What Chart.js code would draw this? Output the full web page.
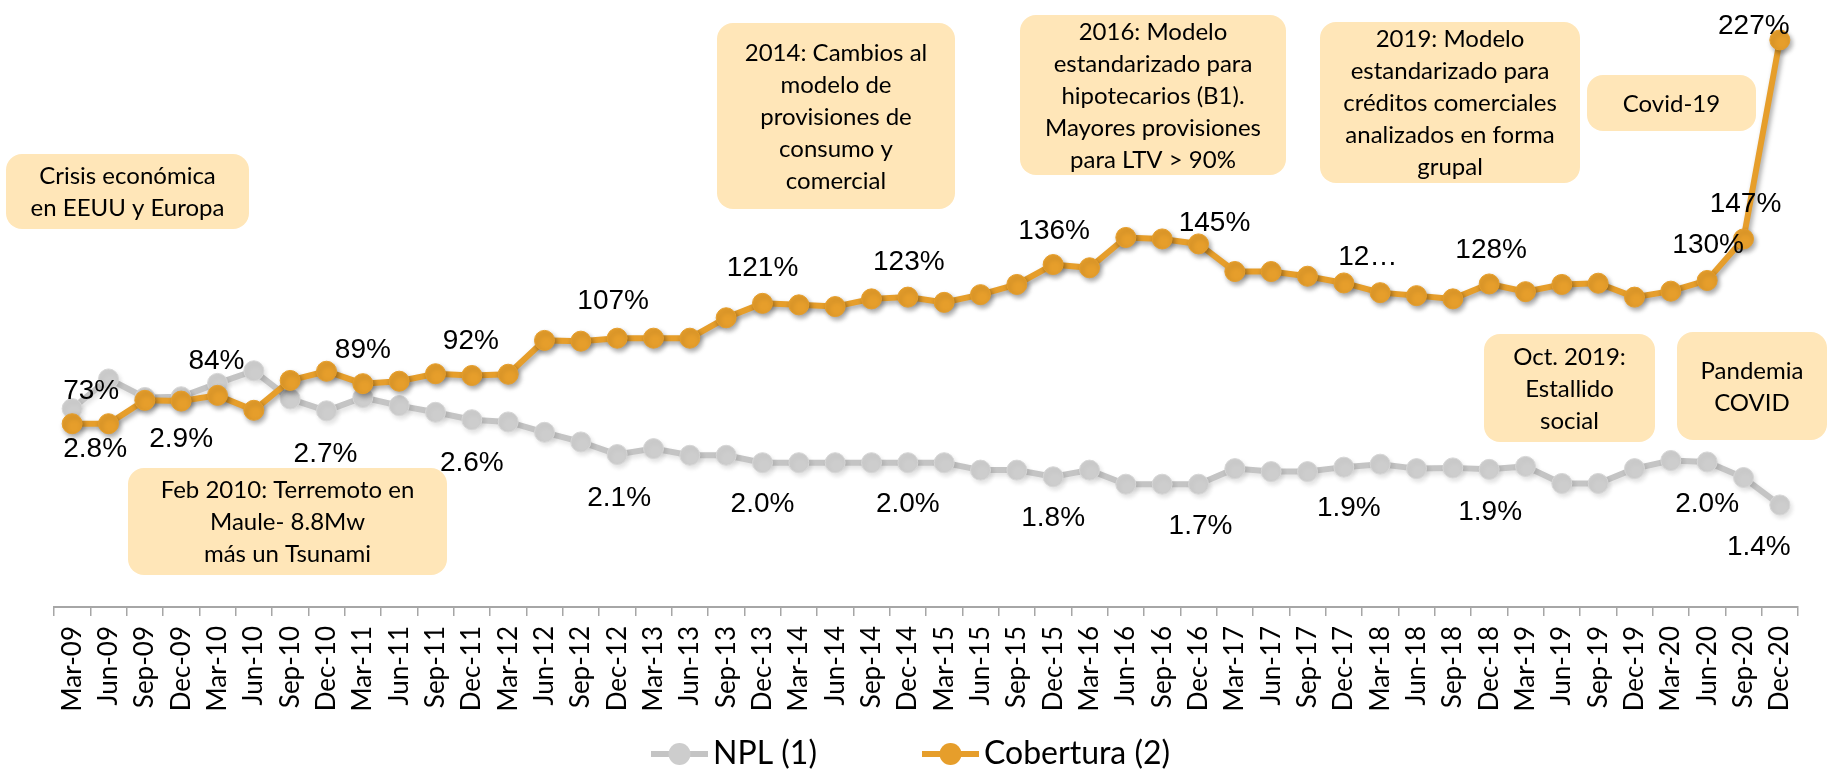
<!DOCTYPE html>
<html>
<head>
<meta charset="utf-8">
<script src="https://cdn.jsdelivr.net/npm/chart.js@4.4.1/dist/chart.umd.min.js"></script>
<style>
  html, body { margin: 0; padding: 0; background: #fff; }
  canvas { display: block; }
</style>
</head>
<body>
<canvas id="chart" width="1837" height="771"></canvas>
<script>
// quarters
const quarters = ['Mar-09','Jun-09','Sep-09','Dec-09','Mar-10','Jun-10','Sep-10','Dec-10',
  'Mar-11','Jun-11','Sep-11','Dec-11','Mar-12','Jun-12','Sep-12','Dec-12',
  'Mar-13','Jun-13','Sep-13','Dec-13','Mar-14','Jun-14','Sep-14','Dec-14',
  'Mar-15','Jun-15','Sep-15','Dec-15','Mar-16','Jun-16','Sep-16','Dec-16',
  'Mar-17','Jun-17','Sep-17','Dec-17','Mar-18','Jun-18','Sep-18','Dec-18',
  'Mar-19','Jun-19','Sep-19','Dec-19','Mar-20','Jun-20','Sep-20','Dec-20'];

// NPL (1), %
const npl = [2.72, 3.12, 2.87, 2.88, 3.06, 3.23, 2.85, 2.69, 2.87, 2.76,
  2.67, 2.57, 2.54, 2.40, 2.27, 2.10, 2.18, 2.09, 2.09, 1.99,
  1.99, 1.99, 1.99, 1.99, 1.99, 1.89, 1.89, 1.80, 1.89, 1.70,
  1.70, 1.70, 1.91, 1.87, 1.87, 1.93, 1.97, 1.91, 1.92, 1.90,
  1.94, 1.71, 1.71, 1.91, 2.02, 2.00, 1.79, 1.42];

// Cobertura (2), %
const cobertura = [72.7, 72.7, 82.1, 81.8, 84.1, 78.1, 90.1, 93.8, 88.8, 89.8,
  92.8, 92.1, 92.6, 106.2, 105.9, 107.1, 107.1, 107.1, 115.3, 121.1,
  120.5, 119.8, 122.9, 123.6, 121.5, 124.6, 128.7, 136.7, 135.4, 147.6,
  147.0, 145.0, 133.9, 133.9, 132.0, 129.3, 125.4, 124.2, 122.9, 128.9,
  125.8, 128.7, 129.2, 123.6, 126.0, 130.3, 147.0, 227.0];

// data labels shown on the chart
const nplLabelIdx  = [0, 3, 7, 11, 15, 19, 23, 27, 31, 35, 39, 45, 47];
const nplLabelText = ['2.8%','2.9%','2.7%','2.6%','2.1%','2.0%','2.0%','1.8%','1.7%','1.9%','1.9%','2.0%','1.4%'];
const covLabelIdx  = [0, 4, 8, 11, 15, 19, 23, 27, 31, 35, 39, 45, 46, 47];
const covLabelText = ['73%','84%','89%','92%','107%','121%','123%','136%','145%','12\u2026','128%','130%','147%','227%'];

// label offsets from their point (px)
const nplLabelOffset = [[23,38],[0,40],[-1,41],[0,41],[2,41],[0,39],[0,39],[0,39],[2,40],[5,39],[1,41],[0,40],[-21,40]];
const covLabelOffset = [[19,-35],[-1,-36],[0,-36],[-1,-36],[-4,-39],[0,-37],[1,-37],[1,-36],[16,-23],[24,-28],[2,-36],[1,-37],[2,-37],[-26,-16]];

const GRAY = '#C4C4C4';
const GRAY_PT = '#CDCDCD';
const ORANGE = '#E69E2B';
const BOX = '#FFE6B8';

const notes = [
  {x: 6,    y: 154, w: 243, h: 75,  lines: ['Crisis económica', 'en EEUU y Europa']},
  {x: 128,  y: 468, w: 319, h: 107, lines: ['Feb 2010: Terremoto en', 'Maule- 8.8Mw', 'más un Tsunami']},
  {x: 717,  y: 23,  w: 238, h: 186, lines: ['2014: Cambios al', 'modelo de', 'provisiones de', 'consumo y', 'comercial']},
  {x: 1020, y: 15,  w: 266, h: 160, lines: ['2016: Modelo', 'estandarizado para', 'hipotecarios (B1).', 'Mayores provisiones', 'para LTV > 90%']},
  {x: 1320, y: 22,  w: 260, h: 161, lines: ['2019: Modelo', 'estandarizado para', 'créditos comerciales', 'analizados en forma', 'grupal']},
  {x: 1587, y: 75,  w: 169, h: 56,  lines: ['Covid-19']},
  {x: 1484, y: 334, w: 171, h: 108, lines: ['Oct. 2019:', 'Estallido', 'social']},
  {x: 1677, y: 332, w: 150, h: 108, lines: ['Pandemia', 'COVID']}
];

function roundBox(ctx, x, y, w, h, r) {
  ctx.beginPath();
  ctx.moveTo(x + r, y);
  ctx.lineTo(x + w - r, y);
  ctx.arcTo(x + w, y, x + w, y + r, r);
  ctx.lineTo(x + w, y + h - r);
  ctx.arcTo(x + w, y + h, x + w - r, y + h, r);
  ctx.lineTo(x + r, y + h);
  ctx.arcTo(x, y + h, x, y + h - r, r);
  ctx.lineTo(x, y + r);
  ctx.arcTo(x, y, x + r, y, r);
  ctx.closePath();
}

const shadow = {
  id: 'shadow',
  beforeDatasetDraw(chart, args) {
    const ctx = chart.ctx;
    ctx.save();
    ctx.shadowColor = args.index === 1 ? 'rgba(0,0,0,0.35)' : 'rgba(0,0,0,0.12)';
    ctx.shadowBlur = 5;
    ctx.shadowOffsetX = 2;
    ctx.shadowOffsetY = 3;
  },
  afterDatasetDraw(chart) {
    chart.ctx.restore();
  }
};

const pointLabels = {
  id: 'pointLabels',
  afterDatasetsDraw(chart) {
    const ctx = chart.ctx;
    const sets = [
      {ds: 0, idx: nplLabelIdx, text: nplLabelText, off: nplLabelOffset},
      {ds: 1, idx: covLabelIdx, text: covLabelText, off: covLabelOffset}
    ];
    ctx.save();
    ctx.font = '28px "Liberation Sans", Arial, sans-serif';
    ctx.fillStyle = '#000';
    ctx.textAlign = 'center';
    ctx.textBaseline = 'alphabetic';
    sets.forEach(s => {
      const meta = chart.getDatasetMeta(s.ds);
      s.idx.forEach((i, k) => {
        const p = meta.data[i];
        ctx.fillText(s.text[k], p.x + s.off[k][0], p.y + s.off[k][1] + 10);
      });
    });
    ctx.restore();
  }
};

const notesAndLegend = {
  id: 'notesAndLegend',
  afterDraw(chart) {
    const ctx = chart.ctx;
    ctx.save();
    notes.forEach(n => {
      ctx.fillStyle = BOX;
      roundBox(ctx, n.x, n.y, n.w, n.h, 16);
      ctx.fill();
      ctx.fillStyle = '#000';
      ctx.font = '24px Lato, "Noto Sans", sans-serif';
      ctx.textAlign = 'center';
      ctx.textBaseline = 'middle';
      const cx = n.x + n.w / 2, cy = n.y + n.h / 2 + 1;
      n.lines.forEach((t, i) => {
        ctx.fillText(t, cx, cy + (i - (n.lines.length - 1) / 2) * 32);
      });
    });

    // legend: line + marker, then name
    const items = [{x: 651, ds: 0}, {x: 922, ds: 1}];
    const ly = 754;
    items.forEach(it => {
      const ds = chart.data.datasets[it.ds];
      ctx.strokeStyle = ds.borderColor;
      ctx.lineWidth = 6;
      ctx.beginPath();
      ctx.moveTo(it.x, ly);
      ctx.lineTo(it.x + 57, ly);
      ctx.stroke();
      ctx.fillStyle = ds.pointBackgroundColor;
      ctx.beginPath();
      ctx.arc(it.x + 28.5, ly, 11, 0, Math.PI * 2);
      ctx.fill();
      ctx.fillStyle = '#000';
      ctx.font = '32px Lato, "Noto Sans", sans-serif';
      ctx.textAlign = 'left';
      ctx.textBaseline = 'middle';
      ctx.fillText(ds.label, it.x + 62, ly);
    });
    ctx.restore();
  }
};

new Chart(document.getElementById('chart'), {
  type: 'line',
  data: {
    labels: quarters,
    datasets: [
      {
        label: 'NPL (1)',
        data: npl,
        yAxisID: 'yNpl',
        order: 1,
        borderColor: GRAY,
        borderWidth: 6,
        pointBackgroundColor: GRAY_PT,
        pointBorderColor: '#D6D6D6',
        pointBorderWidth: 1,
        pointRadius: 10,
        tension: 0
      },
      {
        label: 'Cobertura (2)',
        data: cobertura,
        yAxisID: 'yCov',
        order: 0,
        borderColor: ORANGE,
        borderWidth: 6,
        pointBackgroundColor: ORANGE,
        pointBorderColor: ORANGE,
        pointBorderWidth: 1,
        pointRadius: 10,
        tension: 0
      }
    ]
  },
  options: {
    responsive: false,
    animation: false,
    clip: false,
    layout: { padding: { left: 54, right: 39, top: 10, bottom: 54 } },
    plugins: {
      legend: { display: false },
      tooltip: { enabled: false }
    },
    scales: {
      x: {
        offset: true,
        grid: { offset: true, drawOnChartArea: false, drawTicks: true, tickLength: 9, color: '#A6A6A6', lineWidth: 1.5 },
        border: { display: true, color: '#A6A6A6', width: 2 },
        ticks: {
          autoSkip: false, maxRotation: 90, minRotation: 90, padding: 10,
          color: '#000', font: { family: 'Lato', size: 26 }
        },
        afterFit(scale) { scale.height = 110; }
      },
      yNpl: { type: 'linear', display: false, min: 0.043, max: 8.084 },
      yCov: { type: 'linear', display: false, min: -1.0, max: 238.65 }
    }
  },
  plugins: [shadow, pointLabels, notesAndLegend]
});
</script>
</body>
</html>
